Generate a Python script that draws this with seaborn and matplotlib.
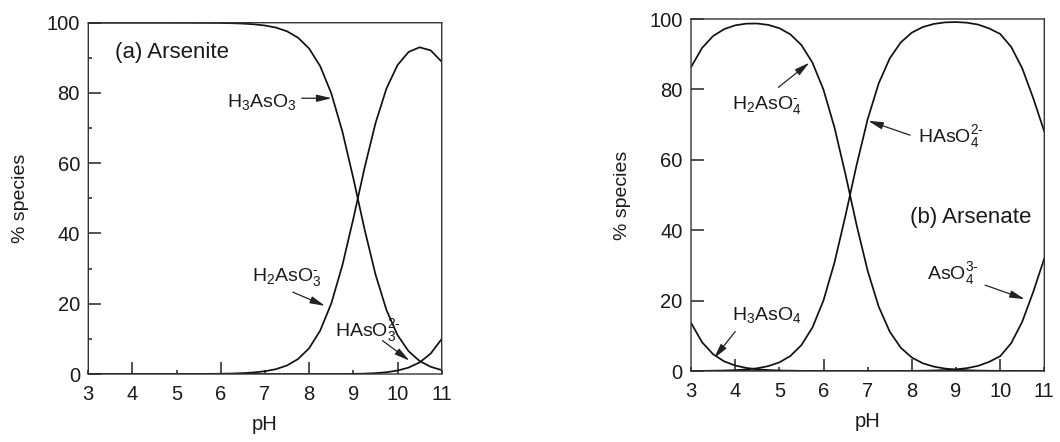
import matplotlib
matplotlib.use('Agg')
import matplotlib.pyplot as plt
import seaborn as sns
import pandas as pd

# ---------------- data ----------------
ph = [3.00, 3.25, 3.50, 3.75, 4.00, 4.25, 4.50, 4.75, 5.00, 5.25, 5.50,
      5.75, 6.00, 6.25, 6.50, 6.75, 7.00, 7.25, 7.50, 7.75, 8.00, 8.25,
      8.50, 8.75, 9.00, 9.25, 9.50, 9.75, 10.00, 10.25, 10.50, 10.75, 11.00]

# (a) Arsenite
h3aso3 = [100, 100, 100, 100, 100, 100, 100, 100, 99.99, 99.99, 99.97,
          99.96, 99.92, 99.86, 99.75, 99.55, 99.21, 98.61, 97.55, 95.72, 92.64, 87.62,
          79.92, 69.11, 55.70, 41.40, 28.40, 18.20, 11.07, 6.49, 3.70, 2.06, 1.12]
h2aso3 = [0, 0, 0, 0, 0, 0, 0, 0, 0.01, 0.01, 0.03,
          0.04, 0.08, 0.14, 0.25, 0.45, 0.79, 1.39, 2.45, 4.28, 7.36, 12.38,
          20.08, 30.87, 44.25, 58.48, 71.34, 81.29, 87.94, 91.68, 93.00, 92.13, 88.90]
haso3 = [0, 0, 0, 0, 0, 0, 0, 0, 0, 0, 0,
         0, 0, 0, 0, 0, 0, 0, 0, 0, 0, 0,
         0, 0.02, 0.05, 0.12, 0.25, 0.51, 0.99, 1.83, 3.30, 5.81, 9.98]

# (b) Arsenate
h3aso4 = [13.68, 8.18, 4.77, 2.74, 1.56, 0.88, 0.49, 0.28, 0.15, 0.09, 0.05,
          0.02, 0.01, 0, 0, 0, 0, 0, 0, 0, 0, 0,
          0, 0, 0, 0, 0, 0, 0, 0, 0, 0, 0]
h2aso4 = [86.30, 91.78, 95.16, 97.13, 98.20, 98.68, 98.72, 98.33, 97.40, 95.64, 92.60,
          87.60, 79.91, 69.12, 55.73, 41.45, 28.47, 18.29, 11.18, 6.61, 3.83, 2.19,
          1.24, 0.70, 0.39, 0.22, 0.12, 0.07, 0.04, 0.02, 0.01, 0.01, 0.00]
haso4 = [0.02, 0.04, 0.08, 0.14, 0.25, 0.44, 0.78, 1.39, 2.45, 4.27, 7.36,
         12.37, 20.07, 30.88, 44.27, 58.55, 71.52, 81.71, 88.81, 93.36, 96.13, 97.73,
         98.61, 99.04, 99.14, 98.95, 98.42, 97.33, 95.76, 92.08, 85.99, 77.49, 68.00]
aso4 = [0, 0, 0, 0, 0, 0, 0, 0, 0, 0, 0,
        0, 0, 0, 0, 0, 0, 0.01, 0.01, 0.02, 0.04, 0.08,
        0.15, 0.26, 0.46, 0.82, 1.46, 2.60, 4.20, 7.90, 14.00, 22.50, 32.00]

xticks_even = [4, 6, 8, 10]
xlabels_even = ['4', '6', '8', '10']
xticks_odd = [3, 5, 7, 9, 11]
xlabels_odd = ['3', '5', '7', '9', '11']
yticks = [0, 20, 40, 60, 80, 100]
ylabels = ['0', '20', '40', '60', '80', '100']
yticks_minor = [10, 30, 50, 70, 90]

# ---------------- style ----------------
sns.set_theme(style='white')
TXT = '#1a1a1a'
plt.rcParams['font.family'] = ['Liberation Sans', 'DejaVu Sans']
plt.rcParams['mathtext.default'] = 'regular'
plt.rcParams.update({
    'path.snap': False,
    'xtick.bottom': True, 'ytick.left': True,
    'xtick.top': False, 'ytick.right': False,
    'xtick.direction': 'in', 'ytick.direction': 'in',
    'xtick.major.size': 9, 'xtick.minor.size': 3,
    'ytick.major.size': 9, 'ytick.minor.size': 3,
    'xtick.major.width': 1.2, 'xtick.minor.width': 1.2,
    'ytick.major.width': 1.2, 'ytick.minor.width': 1.2,
    'xtick.major.pad': 8, 'xtick.minor.pad': 8,
    'ytick.major.pad': 6, 'ytick.minor.pad': 6,
    'xtick.labelsize': 14.5, 'ytick.labelsize': 14.5,
    'xtick.color': '#333333', 'ytick.color': '#333333',
    'xtick.labelcolor': TXT, 'ytick.labelcolor': TXT,
    'axes.edgecolor': '#333333', 'axes.linewidth': 1.0,
    'axes.labelcolor': TXT,
})

fig = plt.figure(figsize=(10.6, 4.42), dpi=100)
axa = fig.add_axes([0.0833, 0.1538, 0.3334, 0.7948])
axb = fig.add_axes([0.6519, 0.1606, 0.3333, 0.7964])


def draw(ax, series):
    for vals in series:
        df = pd.DataFrame({'pH': ph, 'pct': vals})
        sns.lineplot(data=df, x='pH', y='pct', ax=ax, color='#111111',
                     linewidth=1.25, estimator=None, sort=False, legend=False)


def style(ax, minor_y):
    ax.set_xlim(3, 11)
    ax.set_ylim(0, 100)
    ax.set_xticks(xticks_even, labels=xlabels_even)
    ax.set_xticks(xticks_odd, labels=xlabels_odd, minor=True)
    ax.set_yticks(yticks, labels=ylabels)
    if minor_y:
        ax.set_yticks(yticks_minor, minor=True)
    ax.set_xlabel('pH', fontsize=14.5, color=TXT, labelpad=8)
    ax.set_ylabel('% species', fontsize=14, color=TXT, labelpad=13)


draw(axa, [h3aso3, h2aso3, haso3])
draw(axb, [h3aso4, h2aso4, haso4, aso4])
style(axa, True)
style(axb, False)

arrow = dict(arrowstyle='-|>,head_length=0.75,head_width=0.18', color='#222222',
             lw=0.9, shrinkA=0, shrinkB=0)
fs = 14
HY = '\u2010'

# panel (a) annotations
axa.text(3.61, 91.6, '(a) Arsenite', fontsize=16, color=TXT, va='center', ha='left')
axa.text(6.15, 77.5, 'H$_3$AsO$_3$', fontsize=fs, color=TXT, va='center', ha='left')
axa.annotate('', xy=(8.51, 78.5), xytext=(7.83, 78.5), arrowprops=arrow)
axa.text(6.70, 27.5, 'H$_2$AsO$_3^{' + HY + '}$', fontsize=fs, color=TXT, va='center', ha='left')
axa.annotate('', xy=(8.36, 19.4), xytext=(7.63, 23.3), arrowprops=arrow)
axa.text(8.59, 12.5, 'HAsO$_3^{2' + HY + '}$', fontsize=fs, color=TXT, va='center', ha='left')
axa.annotate('', xy=(10.27, 3.8), xytext=(9.66, 9.5), arrowprops=arrow)

# panel (b) annotations
axb.text(7.96, 43.7, '(b) Arsenate', fontsize=16, color=TXT, va='center', ha='left')
axb.text(3.92, 75.6, 'H$_2$AsO$_4^{' + HY + '}$', fontsize=fs, color=TXT, va='center', ha='left')
axb.annotate('', xy=(5.68, 87.6), xytext=(4.98, 80.6), arrowprops=arrow)
axb.text(8.14, 66.6, 'HAsO$_4^{2' + HY + '}$', fontsize=fs, color=TXT, va='center', ha='left')
axb.annotate('', xy=(7.01, 71.1), xytext=(7.96, 67.0), arrowprops=arrow)
axb.text(8.34, 27.6, 'AsO$_4^{3' + HY + '}$', fontsize=fs, color=TXT, va='center', ha='left')
axb.annotate('', xy=(10.56, 20.4), xytext=(9.66, 24.4), arrowprops=arrow)
axb.text(3.92, 15.9, 'H$_3$AsO$_4$', fontsize=fs, color=TXT, va='center', ha='left')
axb.annotate('', xy=(3.52, 3.6), xytext=(4.00, 11.2), arrowprops=arrow)

fig.savefig('out.png', dpi=100, facecolor='white')
